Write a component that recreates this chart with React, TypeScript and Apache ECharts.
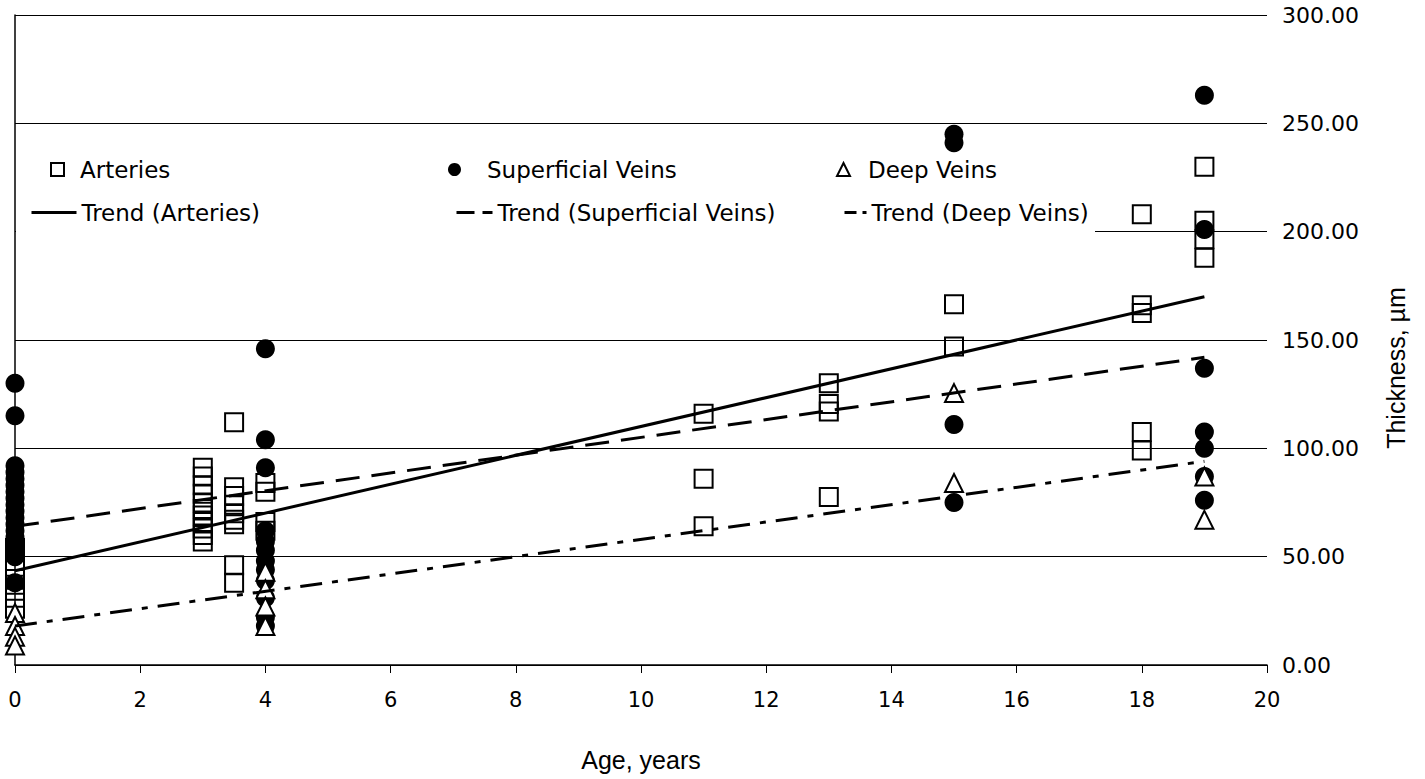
import React, { useEffect, useRef } from "react";
import * as echarts from "echarts";

// Age (years), wall thickness (µm)
const arteries: [number, number][] = [
  [0, 54], [0, 48], [0, 44], [0, 37], [0, 31], [0, 26],
  [3, 91], [3, 87], [3, 83], [3, 79], [3, 75], [3, 72], [3, 69], [3, 66], [3, 63], [3, 60], [3, 57],
  [3.5, 112], [3.5, 82], [3.5, 78], [3.5, 74], [3.5, 70], [3.5, 67], [3.5, 65], [3.5, 46], [3.5, 38],
  [4, 84], [4, 80], [4, 66], [4, 62],
  [11, 116], [11, 86], [11, 64],
  [13, 130], [13, 120.5], [13, 117], [13, 77.5],
  [15, 166.5], [15, 147],
  [18, 208], [18, 166], [18, 162.5], [18, 107.5], [18, 99],
  [19, 230], [19, 205], [19, 196.5], [19, 188],
];

const superficialVeins: [number, number][] = [
  [0, 130], [0, 115], [0, 92], [0, 89], [0, 86], [0, 83], [0, 80], [0, 77], [0, 74], [0, 71],
  [0, 68], [0, 65], [0, 62], [0, 59], [0, 56], [0, 53], [0, 50], [0, 38],
  [4, 146], [4, 104], [4, 91], [4, 62], [4, 57], [4, 53], [4, 48], [4, 44], [4, 39], [4, 31], [4, 22], [4, 18],
  [15, 245], [15, 241], [15, 111], [15, 75],
  [19, 263], [19, 201], [19, 137], [19, 107.5], [19, 100], [19, 87], [19, 76],
];

const deepVeins: [number, number][] = [
  [0, 24], [0, 18], [0, 13], [0, 9],
  [4, 43], [4, 35], [4, 27], [4, 18],
  [15, 125.5], [15, 84],
  [19, 87], [19, 67],
];

const trendArteries: [number, number][] = [[0, 43.5], [19, 170]];
const trendSuperficial: [number, number][] = [[0, 64], [19, 142]];
const trendDeep: [number, number][] = [[0, 18], [19, 94]];

const xRange = { min: 0, max: 20, interval: 2 };
const yRange = { min: 0, max: 300, interval: 50 };

const names = {
  arteries: "Arteries",
  superficial: "Superficial Veins",
  deep: "Deep Veins",
  tArteries: "Trend (Arteries)",
  tSuperficial: "Trend (Superficial Veins)",
  tDeep: "Trend (Deep Veins)",
};

const FONT = "DejaVu Sans";

export default function App() {
  const ref = useRef<HTMLDivElement>(null);
  useEffect(() => {
    document.body.style.margin = "0";
    const chart = echarts.init(ref.current!, null, { renderer: "svg" });
    const legendText = (padLeft: number) => ({
      fontFamily: FONT,
      fontSize: 23,
      color: "#000",
      padding: [0, 0, 0, padLeft],
    });
    const legendBase = {
      orient: "horizontal",
      padding: 0,
      selectedMode: false,
      itemHeight: 13,
    };
    const hiddenSymbol = { color: "rgba(0,0,0,0)", borderWidth: 0, opacity: 0 };
    chart.setOption({
      animation: false,
      backgroundColor: "#fff",
      grid: { left: 15, right: 158, top: 15, bottom: 114 },
      graphic: [
        {
          type: "rect",
          z: 1,
          shape: { x: 16, y: 140, width: 1079, height: 98 },
          style: { fill: "#fff" },
        },
      ],
      xAxis: {
        type: "value",
        ...xRange,
        name: "Age, years",
        nameLocation: "middle",
        nameGap: 82,
        nameTextStyle: { fontFamily: "Liberation Sans", fontSize: 25, color: "#000" },
        axisLine: { show: true, onZero: false, lineStyle: { color: "#000", width: 1.5 } },
        axisTick: { show: true, length: 8, lineStyle: { color: "#000" } },
        splitLine: { show: false },
        axisLabel: {
          color: "#000",
          fontFamily: FONT,
          fontSize: 21,
          margin: 24,
        },
      },
      yAxis: {
        type: "value",
        position: "right",
        ...yRange,
        name: "Thickness, µm",
        nameLocation: "middle",
        nameRotate: 90,
        nameGap: 116,
        nameTextStyle: {
          fontFamily: "Liberation Sans",
          fontSize: 25,
          color: "#000",
          padding: [0, 56, 0, 0],
        },
        axisLine: { show: true, lineStyle: { color: "#000", width: 1.5 } },
        axisTick: { show: true, length: 8, lineStyle: { color: "#000" } },
        splitLine: { show: true, lineStyle: { color: "#000", width: 1.2 } },
        axisLabel: {
          color: "#000",
          fontFamily: FONT,
          fontSize: 22,
          margin: 15,
          formatter: (v: number) => v.toFixed(2),
        },
      },
      legend: [
        { ...legendBase, data: [names.arteries], left: 50, top: 158, itemWidth: 13, textStyle: legendText(11) },
        { ...legendBase, data: [names.superficial], left: 448, top: 158, itemWidth: 13, textStyle: legendText(21) },
        { ...legendBase, data: [names.deep], left: 836, top: 158, itemWidth: 13, textStyle: legendText(13) },
        {
          ...legendBase,
          data: [{ name: names.tArteries, itemStyle: hiddenSymbol }],
          left: 30, top: 201, itemWidth: 45,
          lineStyle: { color: "#000", width: 3, type: "solid" },
          textStyle: legendText(0),
        },
        {
          ...legendBase,
          data: [{ name: names.tSuperficial, itemStyle: hiddenSymbol }],
          left: 455, top: 201, itemWidth: 36,
          lineStyle: { color: "#000", width: 3, type: [18, 8] },
          textStyle: legendText(0),
        },
        {
          ...legendBase,
          data: [{ name: names.tDeep, itemStyle: hiddenSymbol }],
          left: 843, top: 201, itemWidth: 22,
          lineStyle: { color: "#000", width: 3, type: [12, 6, 4, 6] },
          textStyle: legendText(0),
        },
      ],
      series: [
        {
          name: names.arteries,
          type: "scatter",
          symbol: "rect",
          symbolSize: 18,
          data: arteries,
          z: 2,
          itemStyle: { color: "rgba(0,0,0,0)", borderColor: "#000", borderWidth: 2, opacity: 1 },
        },
        {
          name: names.superficial,
          type: "scatter",
          symbol: "circle",
          symbolSize: 19,
          data: superficialVeins,
          z: 3,
          itemStyle: { color: "#000", opacity: 1 },
        },
        {
          name: names.deep,
          type: "scatter",
          symbol: "triangle",
          symbolSize: 18,
          data: deepVeins,
          z: 4,
          itemStyle: { color: "#fff", borderColor: "#000", borderWidth: 2, opacity: 1 },
        },
        {
          name: names.tArteries,
          type: "line",
          data: trendArteries,
          showSymbol: false,
          z: 5,
          lineStyle: { color: "#000", width: 3, type: "solid" },
          itemStyle: { color: "#000" },
        },
        {
          name: names.tSuperficial,
          type: "line",
          data: trendSuperficial,
          showSymbol: false,
          z: 5,
          lineStyle: { color: "#000", width: 3, type: [24, 12] },
          itemStyle: { color: "#000" },
        },
        {
          name: names.tDeep,
          type: "line",
          data: trendDeep,
          showSymbol: false,
          z: 5,
          lineStyle: { color: "#000", width: 3, type: [22, 10, 6, 10] },
          itemStyle: { color: "#000" },
        },
      ],
    });
    return () => chart.dispose();
  }, []);
  return <div ref={ref} style={{ width: 1425, height: 779 }} />;
}
